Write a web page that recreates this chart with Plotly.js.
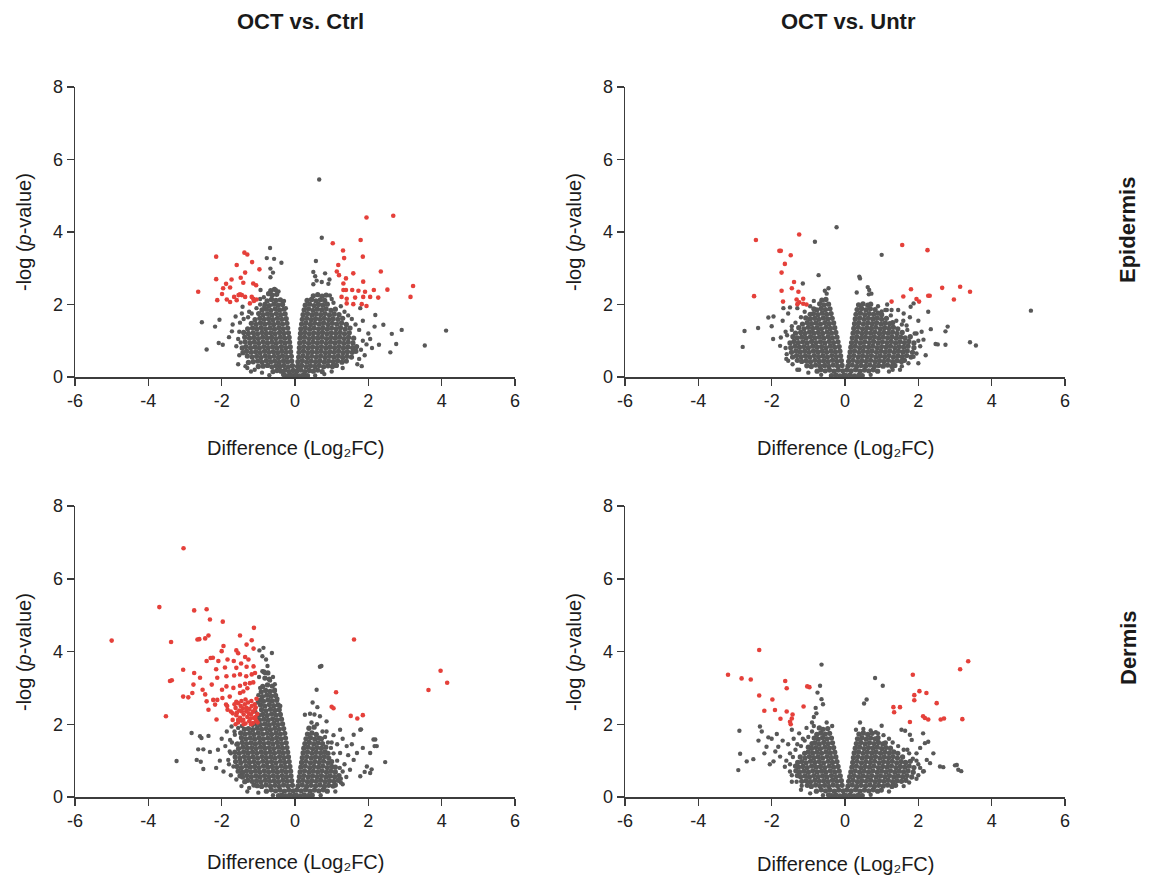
<!DOCTYPE html>
<html><head><meta charset="utf-8">
<script src="https://cdn.plot.ly/plotly-3.0.1.min.js"></script>
<style>html,body{margin:0;padding:0;background:#fff}#chart{width:1152px;height:879px}</style>
</head><body><div id="chart"></div>
<script>
// ---------- labels ----------
const xTicks=[-6,-4,-2,0,2,4,6];
const yTicks=[0,2,4,6,8];
const colTitles=['OCT vs. Ctrl','OCT vs. Untr'];
const rowTitles=['Epidermis','Dermis'];
const yTitle='-log (<i>p</i>-value)';
const xTitle='Difference (Log\u2082FC)';

// ---------- OCT vs. Ctrl, Epidermis ----------
const epiCtrlCore=[
[-0.03,0.04],[-0.12,0.06],[-0.22,0.03],[-0.31,0.07],
[-0.05,0.18],[-0.16,0.15],[-0.27,0.19],[-0.38,0.16],[-0.49,0.18],[-0.6,0.15],
[-0.07,0.31],[-0.18,0.28],[-0.3,0.32],[-0.41,0.29],[-0.52,0.31],[-0.63,0.28],[-0.75,0.32],[-0.87,0.3],[-1.0,0.29],
[-0.09,0.44],[-0.2,0.42],[-0.31,0.45],[-0.43,0.41],[-0.55,0.44],[-0.66,0.42],[-0.78,0.45],[-0.9,0.41],[-1.02,0.44],[-1.14,0.42],[-1.27,0.4],
[-0.1,0.57],[-0.22,0.55],[-0.34,0.58],[-0.45,0.54],[-0.57,0.57],[-0.69,0.55],[-0.81,0.58],[-0.93,0.54],[-1.05,0.57],[-1.17,0.55],[-1.3,0.58],
[-0.12,0.7],[-0.24,0.68],[-0.36,0.71],[-0.47,0.67],[-0.59,0.7],[-0.71,0.68],[-0.83,0.71],[-0.95,0.67],[-1.07,0.7],[-1.19,0.68],[-1.32,0.71],[-1.42,0.67],
[-0.13,0.83],[-0.25,0.81],[-0.37,0.84],[-0.49,0.8],[-0.61,0.83],[-0.73,0.81],[-0.85,0.84],[-0.97,0.8],[-1.09,0.83],[-1.21,0.81],[-1.34,0.84],[-1.44,0.8],
[-0.15,0.96],[-0.27,0.94],[-0.39,0.97],[-0.51,0.93],[-0.63,0.96],[-0.75,0.94],[-0.87,0.97],[-0.99,0.93],[-1.11,0.96],[-1.23,0.94],[-1.36,0.97],
[-0.16,1.09],[-0.28,1.07],[-0.4,1.1],[-0.52,1.06],[-0.64,1.09],[-0.76,1.07],[-0.88,1.1],[-1.0,1.06],[-1.12,1.09],[-1.24,1.07],[-1.37,1.1],
[-0.18,1.22],[-0.3,1.2],[-0.42,1.23],[-0.54,1.19],[-0.66,1.22],[-0.78,1.2],[-0.9,1.23],[-1.02,1.19],[-1.14,1.22],[-1.27,1.2],[-1.4,1.23],
[-0.2,1.35],[-0.32,1.33],[-0.44,1.36],[-0.56,1.32],[-0.68,1.35],[-0.8,1.33],[-0.92,1.36],[-1.04,1.32],[-1.16,1.35],[-1.29,1.33],
[-0.22,1.48],[-0.34,1.46],[-0.46,1.49],[-0.58,1.45],[-0.7,1.48],[-0.82,1.46],[-0.94,1.49],[-1.06,1.45],[-1.19,1.48],
[-0.24,1.61],[-0.36,1.59],[-0.48,1.62],[-0.6,1.58],[-0.72,1.61],[-0.84,1.59],[-0.96,1.62],[-1.09,1.58],
[-0.27,1.74],[-0.39,1.72],[-0.51,1.75],[-0.63,1.71],[-0.75,1.74],[-0.87,1.72],[-0.99,1.75],
[-0.3,1.87],[-0.42,1.85],[-0.54,1.88],[-0.66,1.84],[-0.78,1.87],[-0.9,1.85],
[-0.34,2.0],[-0.46,1.98],[-0.58,2.01],[-0.7,1.97],[-0.82,2.0],
[-0.4,2.13],[-0.52,2.11],[-0.64,2.14],[-0.76,2.1],
[-0.5,2.28],[-0.62,2.26],[-0.72,2.3],[-0.56,2.42],[-0.66,2.38],
[0.03,0.05],[0.13,0.03],[0.23,0.06],[0.34,0.04],
[0.05,0.16],[0.16,0.19],[0.27,0.15],[0.39,0.18],[0.5,0.16],[0.62,0.19],[0.74,0.15],
[0.07,0.29],[0.18,0.32],[0.3,0.28],[0.42,0.31],[0.54,0.29],[0.66,0.32],[0.78,0.28],[0.9,0.31],[1.02,0.29],[1.13,0.32],
[0.08,0.42],[0.2,0.45],[0.32,0.41],[0.44,0.44],[0.56,0.42],[0.68,0.45],[0.8,0.41],[0.92,0.44],[1.04,0.42],[1.16,0.45],[1.28,0.41],[1.4,0.44],
[0.1,0.55],[0.22,0.58],[0.34,0.54],[0.46,0.57],[0.58,0.55],[0.7,0.58],[0.82,0.54],[0.94,0.57],[1.06,0.55],[1.18,0.58],[1.3,0.54],[1.42,0.57],[1.54,0.55],
[0.11,0.68],[0.23,0.71],[0.35,0.67],[0.47,0.7],[0.59,0.68],[0.71,0.71],[0.83,0.67],[0.95,0.7],[1.07,0.68],[1.19,0.71],[1.31,0.67],[1.43,0.7],[1.56,0.68],[1.66,0.71],
[0.12,0.81],[0.24,0.84],[0.36,0.8],[0.48,0.83],[0.6,0.81],[0.72,0.84],[0.84,0.8],[0.96,0.83],[1.08,0.81],[1.2,0.84],[1.32,0.8],[1.44,0.83],[1.57,0.81],[1.68,0.84],
[0.13,0.94],[0.25,0.97],[0.37,0.93],[0.49,0.96],[0.61,0.94],[0.73,0.97],[0.85,0.93],[0.97,0.96],[1.09,0.94],[1.21,0.97],[1.33,0.93],[1.45,0.96],[1.58,0.94],
[0.14,1.07],[0.26,1.1],[0.38,1.06],[0.5,1.09],[0.62,1.07],[0.74,1.1],[0.86,1.06],[0.98,1.09],[1.1,1.07],[1.22,1.1],[1.34,1.06],[1.46,1.09],[1.6,1.07],
[0.15,1.2],[0.27,1.23],[0.39,1.19],[0.51,1.22],[0.63,1.2],[0.75,1.23],[0.87,1.19],[0.99,1.22],[1.11,1.2],[1.23,1.23],[1.35,1.19],[1.48,1.22],
[0.16,1.33],[0.28,1.36],[0.4,1.32],[0.52,1.35],[0.64,1.33],[0.76,1.36],[0.88,1.32],[1.0,1.35],[1.12,1.33],[1.24,1.36],[1.37,1.32],[1.5,1.35],
[0.18,1.46],[0.3,1.49],[0.42,1.45],[0.54,1.48],[0.66,1.46],[0.78,1.49],[0.9,1.45],[1.02,1.48],[1.14,1.46],[1.27,1.49],[1.4,1.45],
[0.2,1.59],[0.32,1.62],[0.44,1.58],[0.56,1.61],[0.68,1.59],[0.8,1.62],[0.92,1.58],[1.04,1.61],[1.17,1.59],[1.3,1.62],
[0.22,1.72],[0.34,1.75],[0.46,1.71],[0.58,1.74],[0.7,1.72],[0.82,1.75],[0.94,1.71],[1.07,1.74],[1.2,1.72],
[0.25,1.85],[0.37,1.88],[0.49,1.84],[0.61,1.87],[0.73,1.85],[0.85,1.88],[0.98,1.84],[1.1,1.87],
[0.28,1.98],[0.4,2.01],[0.52,1.97],[0.64,2.0],[0.76,1.98],[0.88,2.01],
[0.33,2.11],[0.45,2.14],[0.57,2.1],[0.69,2.13],[0.81,2.11],
[0.5,2.24],[0.62,2.27],[0.74,2.23],[0.85,2.26]
];
const epiCtrlOuter=[
[0.66,5.45],[0.73,3.84],[0.57,3.2],[-0.68,3.56],[-0.77,3.28],[-0.57,3.26],[-0.37,3.15],[-0.67,2.99],[-0.6,2.88],[-0.67,2.75],
[0.5,2.9],[0.55,2.78],[0.59,2.66],[0.82,2.86],[0.94,2.69],[0.91,2.57],[0.73,2.62],[0.5,2.56],[-0.52,2.4],[-0.45,2.36],
[4.12,1.28],[3.54,0.87],[2.91,1.3],[2.64,1.19],[2.6,0.68],[2.76,0.91],[2.29,0.89],[2.17,1.39],[2.41,1.44],[2.19,1.71],
[1.7,0.35],[2.0,1.2],[1.95,0.9],[1.85,1.55],[2.05,1.05],[1.9,0.6],[1.78,1.9],[2.1,0.8],[1.82,0.3],
[-2.54,1.51],[-2.41,0.76],[-2.18,1.39],[-2.06,1.58],[-2.08,0.94],[-1.97,0.89],[-1.72,1.26],[-1.62,1.67],[-1.43,1.94],[-0.84,1.94],
[-0.94,2.4],[-1.6,0.85],[-1.55,1.05],[-1.7,1.45],[-1.52,0.6],[-1.5,1.5],[-1.8,1.1],[-1.3,0.25],[-1.1,0.2],[-1.45,1.75],[-1.25,1.8],[-0.95,2.15],
[-1.55,0.35],[-1.48,0.95],[-1.52,1.25],[-1.4,1.6],[-1.28,1.65],[-1.18,1.75],[-1.05,1.9],[-0.95,2.0],[-0.85,2.2],[-0.3,2.1],[-0.25,1.9],
[-1.35,0.3],[-1.2,0.15],[-0.9,0.12],[-0.7,0.05],
[1.75,0.5],[1.8,0.75],[1.85,1.0],[1.75,1.3],[1.65,1.45],[1.55,1.6],[1.45,1.7],[1.35,1.8],[1.25,1.95],[1.05,2.05],[1.0,2.15],[0.95,2.25],
[1.3,0.25],[1.0,0.15],[0.8,0.08],[0.55,0.04]
];
const epiCtrlRed=[
[-2.64,2.35],[-2.15,3.32],[-2.15,2.7],[-2.12,2.12],[-1.96,2.45],[-1.88,2.57],[-1.99,2.29],[-1.86,2.14],[-1.73,2.69],[-1.77,2.47],
[-1.59,3.09],[-1.48,2.74],[-1.38,3.43],[-1.3,3.38],[-1.17,3.17],[-1.36,2.88],[-1.41,2.6],[-1.54,2.26],[-1.45,2.26],[-1.36,2.21],
[-1.66,2.21],[-1.59,2.12],[-1.77,2.07],[-1.14,2.58],[-1.06,2.53],[-1.18,2.21],[-1.14,2.16],[-1.05,2.14],[-1.23,2.03],[-0.97,2.97],
[-1.5,2.28],[-1.12,2.1],
[2.68,4.45],[1.95,4.4],[1.79,3.78],[1.03,3.69],[1.31,3.49],[1.34,3.28],[1.85,3.32],[1.18,3.09],[1.14,2.91],[1.2,2.81],
[1.59,2.86],[1.39,2.72],[1.32,2.58],[1.86,2.63],[2.34,2.91],[1.32,2.4],[1.39,2.4],[1.56,2.4],[1.73,2.38],[1.91,2.35],
[2.15,2.4],[1.27,2.21],[1.41,2.16],[1.64,2.19],[1.86,2.21],[2.05,2.21],[2.27,2.19],[1.41,2.03],[1.59,2.01],[1.82,2.01],
[1.95,1.96],[3.22,2.51],[3.15,2.21],[2.52,2.41]
];

// ---------- OCT vs. Untr, Epidermis ----------
const epiUntrCore=[
[-0.03,0.05],[-0.14,0.03],[-0.25,0.06],[-0.37,0.04],
[-0.06,0.17],[-0.18,0.19],[-0.3,0.16],[-0.42,0.19],[-0.54,0.17],[-0.66,0.2],[-0.76,0.16],
[-0.08,0.32],[-0.2,0.3],[-0.32,0.33],[-0.44,0.29],[-0.56,0.32],[-0.68,0.3],[-0.8,0.33],[-0.92,0.29],[-1.04,0.31],
[-0.1,0.45],[-0.22,0.43],[-0.34,0.46],[-0.46,0.42],[-0.58,0.45],[-0.7,0.43],[-0.82,0.46],[-0.94,0.42],[-1.06,0.45],[-1.18,0.43],[-1.3,0.46],
[-0.12,0.58],[-0.24,0.56],[-0.36,0.59],[-0.48,0.55],[-0.6,0.58],[-0.72,0.56],[-0.84,0.59],[-0.96,0.55],[-1.08,0.58],[-1.2,0.56],[-1.32,0.59],[-1.43,0.55],
[-0.14,0.71],[-0.26,0.69],[-0.38,0.72],[-0.5,0.68],[-0.62,0.71],[-0.74,0.69],[-0.86,0.72],[-0.98,0.68],[-1.1,0.71],[-1.22,0.69],[-1.34,0.72],[-1.46,0.68],
[-0.16,0.84],[-0.28,0.82],[-0.4,0.85],[-0.52,0.81],[-0.64,0.84],[-0.76,0.82],[-0.88,0.85],[-1.0,0.81],[-1.12,0.84],[-1.24,0.82],[-1.36,0.85],[-1.48,0.81],
[-0.19,0.97],[-0.31,0.95],[-0.43,0.98],[-0.55,0.94],[-0.67,0.97],[-0.79,0.95],[-0.91,0.98],[-1.03,0.94],[-1.15,0.97],[-1.27,0.95],[-1.39,0.98],[-1.5,0.94],
[-0.22,1.1],[-0.34,1.08],[-0.46,1.11],[-0.58,1.07],[-0.7,1.1],[-0.82,1.08],[-0.94,1.11],[-1.06,1.07],[-1.18,1.1],[-1.3,1.08],[-1.42,1.11],
[-0.25,1.23],[-0.37,1.21],[-0.49,1.24],[-0.61,1.2],[-0.73,1.23],[-0.85,1.21],[-0.97,1.24],[-1.09,1.2],[-1.21,1.23],[-1.35,1.21],
[-0.28,1.36],[-0.4,1.34],[-0.52,1.37],[-0.64,1.33],[-0.76,1.36],[-0.88,1.34],[-1.0,1.37],[-1.12,1.33],[-1.26,1.36],
[-0.31,1.49],[-0.43,1.47],[-0.55,1.5],[-0.67,1.46],[-0.79,1.49],[-0.91,1.47],[-1.03,1.5],[-1.16,1.46],
[-0.35,1.62],[-0.47,1.6],[-0.59,1.63],[-0.71,1.59],[-0.83,1.62],[-0.95,1.6],[-1.07,1.63],
[-0.38,1.75],[-0.5,1.73],[-0.62,1.76],[-0.74,1.72],[-0.86,1.75],[-0.95,1.73],
[-0.41,1.88],[-0.53,1.86],[-0.65,1.89],[-0.77,1.85],[-0.85,1.88],
[-0.45,2.01],[-0.57,1.99],[-0.69,2.02],[-0.52,2.14],[-0.63,2.12],
[0.03,0.04],[0.14,0.06],[0.26,0.03],[0.38,0.05],[0.47,0.04],
[0.05,0.19],[0.17,0.17],[0.29,0.2],[0.41,0.16],[0.53,0.19],[0.65,0.17],[0.77,0.2],[0.89,0.16],
[0.08,0.3],[0.2,0.33],[0.32,0.29],[0.44,0.32],[0.56,0.3],[0.68,0.33],[0.8,0.29],[0.92,0.32],[1.04,0.3],[1.16,0.33],[1.28,0.29],[1.36,0.32],
[0.1,0.43],[0.22,0.46],[0.34,0.42],[0.46,0.45],[0.58,0.43],[0.7,0.46],[0.82,0.42],[0.94,0.45],[1.06,0.43],[1.18,0.46],[1.3,0.42],[1.42,0.45],[1.54,0.43],[1.62,0.46],
[0.12,0.56],[0.24,0.59],[0.36,0.55],[0.48,0.58],[0.6,0.56],[0.72,0.59],[0.84,0.55],[0.96,0.58],[1.08,0.56],[1.2,0.59],[1.32,0.55],[1.44,0.58],[1.56,0.56],[1.68,0.59],[1.8,0.55],
[0.14,0.69],[0.26,0.72],[0.38,0.68],[0.5,0.71],[0.62,0.69],[0.74,0.72],[0.86,0.68],[0.98,0.71],[1.1,0.69],[1.22,0.72],[1.34,0.68],[1.46,0.71],[1.58,0.69],[1.7,0.72],[1.84,0.68],
[0.16,0.82],[0.28,0.85],[0.4,0.81],[0.52,0.84],[0.64,0.82],[0.76,0.85],[0.88,0.81],[1.0,0.84],[1.12,0.82],[1.24,0.85],[1.36,0.81],[1.48,0.84],[1.6,0.82],[1.72,0.85],[1.88,0.81],
[0.18,0.95],[0.3,0.98],[0.42,0.94],[0.54,0.97],[0.66,0.95],[0.78,0.98],[0.9,0.94],[1.02,0.97],[1.14,0.95],[1.26,0.98],[1.38,0.94],[1.5,0.97],[1.62,0.95],[1.74,0.98],[1.88,0.94],
[0.2,1.08],[0.32,1.11],[0.44,1.07],[0.56,1.1],[0.68,1.08],[0.8,1.11],[0.92,1.07],[1.04,1.1],[1.16,1.08],[1.28,1.11],[1.4,1.07],[1.52,1.1],[1.64,1.08],[1.78,1.11],
[0.22,1.21],[0.34,1.24],[0.46,1.2],[0.58,1.23],[0.7,1.21],[0.82,1.24],[0.94,1.2],[1.06,1.23],[1.18,1.21],[1.3,1.24],[1.42,1.2],[1.56,1.23],
[0.24,1.34],[0.36,1.37],[0.48,1.33],[0.6,1.36],[0.72,1.34],[0.84,1.37],[0.96,1.33],[1.08,1.36],[1.2,1.34],[1.32,1.37],[1.44,1.33],
[0.26,1.47],[0.38,1.5],[0.5,1.46],[0.62,1.49],[0.74,1.47],[0.86,1.5],[0.98,1.46],[1.1,1.49],[1.22,1.47],[1.3,1.5],
[0.28,1.6],[0.4,1.63],[0.52,1.59],[0.64,1.62],[0.76,1.6],[0.88,1.63],[1.0,1.59],[1.13,1.62],
[0.3,1.73],[0.42,1.76],[0.54,1.72],[0.66,1.75],[0.78,1.73],[0.9,1.76],[1.0,1.72],
[0.33,1.86],[0.45,1.89],[0.57,1.85],[0.69,1.88],[0.82,1.86],
[0.37,1.99],[0.49,2.02],[0.62,1.98],[0.7,2.01]
];
const epiUntrOuter=[
[-0.23,4.13],[-0.82,3.73],[1.0,3.37],[0.39,2.77],[0.41,2.72],[-0.72,2.81],[-0.55,2.38],[-0.45,2.45],[-0.5,2.3],[-1.15,2.58],
[0.32,2.33],[0.62,2.48],[0.65,2.28],[0.72,2.3],[0.66,2.4],
[-2.74,1.27],[-2.79,0.83],[-2.37,1.35],[-2.09,1.64],[-2.0,1.4],[-1.95,1.67],[-1.96,1.05],[-1.77,0.86],[-1.75,1.09],[-1.68,1.9],
[-1.5,1.92],[-1.45,1.4],[-1.43,0.35],[-1.59,0.63],[-1.62,1.25],[-1.7,1.55],[-1.55,1.75],[-1.3,1.9],[-1.55,0.45],[-1.25,0.2],
[5.07,1.83],[3.41,0.96],[3.57,0.87],[2.74,1.26],[2.8,1.39],[2.47,0.91],[2.74,0.89],[2.53,0.9],[2.34,1.32],[2.09,1.25],
[2.14,1.03],[2.05,0.85],[2.0,0.38],[1.73,0.38],[1.87,0.56],[1.59,1.55],[1.68,1.42],[1.77,1.65],[1.45,1.85],[1.27,1.85],
[1.14,1.85],[1.0,1.81],[1.79,1.94],[1.87,2.03],[2.27,1.8],[1.3,0.2],[2.0,1.55],[1.95,1.2],[2.2,0.6],[1.6,1.75],[1.5,0.2],[1.15,2.0],
[-1.6,0.5],[-1.62,0.8],[-1.58,1.15],[-1.45,1.3],[-1.35,1.5],[-1.2,1.65],[-1.1,1.8],[-0.95,1.95],[-0.85,2.1],[-1.3,0.2],[-1.0,0.12],[-0.65,0.06],
[1.95,0.65],[2.0,1.0],[1.9,1.2],[1.7,1.3],[1.55,1.45],[1.4,1.55],[1.25,1.7],[1.1,1.85],[0.9,1.95],[1.55,0.3],[1.2,0.15],[0.7,0.06]
];
const epiUntrRed=[
[-2.43,3.78],[-2.48,2.23],[-1.79,3.48],[-1.75,3.48],[-1.48,3.36],[-1.64,3.12],[-1.73,2.88],[-1.25,3.93],[-1.39,2.62],[-1.45,2.45],
[-1.73,2.38],[-1.27,2.35],[-1.69,2.08],[-1.32,2.14],[-1.25,2.06],[-1.14,2.16],[-1.05,2.0],[-1.14,2.02],[-1.3,2.01],
[1.56,3.64],[2.25,3.5],[1.8,2.42],[1.59,2.22],[1.95,2.15],[2.02,2.08],[2.27,2.24],[2.31,2.24],[1.27,2.08],[2.65,2.46],
[3.14,2.49],[3.41,2.35],[2.97,2.14]
];

// ---------- OCT vs. Ctrl, Dermis ----------
const derCtrlCore=[
[-0.03,0.04],[-0.14,0.06],[-0.25,0.03],[-0.36,0.05],[-0.45,0.04],
[-0.05,0.17],[-0.17,0.19],[-0.29,0.16],[-0.41,0.19],[-0.53,0.17],[-0.65,0.2],[-0.78,0.16],
[-0.07,0.32],[-0.19,0.3],[-0.31,0.33],[-0.43,0.29],[-0.55,0.32],[-0.67,0.3],[-0.79,0.33],[-0.91,0.29],[-1.03,0.31],[-1.12,0.33],
[-0.09,0.45],[-0.21,0.43],[-0.33,0.46],[-0.45,0.42],[-0.57,0.45],[-0.69,0.43],[-0.81,0.46],[-0.93,0.42],[-1.05,0.45],[-1.17,0.43],[-1.29,0.46],[-1.37,0.42],
[-0.11,0.58],[-0.23,0.56],[-0.35,0.59],[-0.47,0.55],[-0.59,0.58],[-0.71,0.56],[-0.83,0.59],[-0.95,0.55],[-1.07,0.58],[-1.19,0.56],[-1.31,0.59],[-1.43,0.55],[-1.5,0.58],
[-0.12,0.71],[-0.24,0.69],[-0.36,0.72],[-0.48,0.68],[-0.6,0.71],[-0.72,0.69],[-0.84,0.72],[-0.96,0.68],[-1.08,0.71],[-1.2,0.69],[-1.32,0.72],[-1.44,0.68],[-1.55,0.71],
[-0.14,0.84],[-0.26,0.82],[-0.38,0.85],[-0.5,0.81],[-0.62,0.84],[-0.74,0.82],[-0.86,0.85],[-0.98,0.81],[-1.1,0.84],[-1.22,0.82],[-1.34,0.85],[-1.46,0.81],[-1.58,0.84],
[-0.16,0.97],[-0.28,0.95],[-0.4,0.98],[-0.52,0.94],[-0.64,0.97],[-0.76,0.95],[-0.88,0.98],[-1.0,0.94],[-1.12,0.97],[-1.24,0.95],[-1.36,0.98],[-1.48,0.94],[-1.62,0.97],
[-0.18,1.1],[-0.3,1.08],[-0.42,1.11],[-0.54,1.07],[-0.66,1.1],[-0.78,1.08],[-0.9,1.11],[-1.02,1.07],[-1.14,1.1],[-1.26,1.08],[-1.38,1.11],[-1.5,1.07],[-1.63,1.1],
[-0.2,1.23],[-0.32,1.21],[-0.44,1.24],[-0.56,1.2],[-0.68,1.23],[-0.8,1.21],[-0.92,1.24],[-1.04,1.2],[-1.16,1.23],[-1.28,1.21],[-1.4,1.24],[-1.52,1.2],[-1.64,1.23],
[-0.22,1.36],[-0.34,1.34],[-0.46,1.37],[-0.58,1.33],[-0.7,1.36],[-0.82,1.34],[-0.94,1.37],[-1.06,1.33],[-1.18,1.36],[-1.3,1.34],[-1.42,1.37],[-1.54,1.33],
[-0.24,1.49],[-0.36,1.47],[-0.48,1.5],[-0.6,1.46],[-0.72,1.49],[-0.84,1.47],[-0.96,1.5],[-1.08,1.46],[-1.2,1.49],[-1.32,1.47],[-1.44,1.5],[-1.57,1.46],
[-0.26,1.62],[-0.38,1.6],[-0.5,1.63],[-0.62,1.59],[-0.74,1.62],[-0.86,1.6],[-0.98,1.63],[-1.1,1.59],[-1.22,1.62],[-1.34,1.6],[-1.46,1.63],
[-0.28,1.75],[-0.4,1.73],[-0.52,1.76],[-0.64,1.72],[-0.76,1.75],[-0.88,1.73],[-1.0,1.76],[-1.12,1.72],[-1.24,1.75],[-1.36,1.73],[-1.48,1.76],
[-0.31,1.88],[-0.43,1.86],[-0.55,1.89],[-0.67,1.85],[-0.79,1.88],[-0.91,1.86],[-1.03,1.89],[-1.15,1.85],[-1.27,1.88],[-1.38,1.86],
[-0.34,2.01],[-0.46,1.99],[-0.58,2.02],[-0.7,1.98],[-0.82,2.01],[-0.94,1.99],[-1.06,2.02],
[-0.37,2.14],[-0.49,2.12],[-0.61,2.15],[-0.73,2.11],[-0.85,2.14],[-0.97,2.12],
[-0.4,2.27],[-0.52,2.25],[-0.64,2.28],[-0.76,2.24],[-0.88,2.27],[-0.99,2.25],
[-0.43,2.4],[-0.55,2.38],[-0.67,2.41],[-0.79,2.37],[-0.91,2.4],
[-0.46,2.53],[-0.58,2.51],[-0.7,2.54],[-0.82,2.5],[-0.94,2.53],
[-0.5,2.66],[-0.62,2.64],[-0.74,2.67],[-0.86,2.63],[-0.96,2.66],
[-0.53,2.79],[-0.65,2.77],[-0.77,2.8],[-0.89,2.76],
[-0.56,2.92],[-0.68,2.9],[-0.8,2.93],[-0.92,2.89],
[-0.62,3.05],[-0.75,3.08],[-0.88,3.04],[-0.7,3.24],[-0.82,3.27],[-0.74,3.41],[-0.85,3.44],
[0.03,0.05],[0.14,0.03],[0.25,0.06],[0.36,0.04],[0.47,0.05],
[0.05,0.19],[0.17,0.17],[0.29,0.2],[0.41,0.16],[0.53,0.19],[0.65,0.17],[0.77,0.2],[0.88,0.16],
[0.08,0.3],[0.2,0.33],[0.32,0.29],[0.44,0.32],[0.56,0.3],[0.68,0.33],[0.8,0.29],[0.92,0.32],[1.04,0.3],[1.1,0.33],
[0.1,0.43],[0.22,0.46],[0.34,0.42],[0.46,0.45],[0.58,0.43],[0.7,0.46],[0.82,0.42],[0.94,0.45],[1.06,0.43],[1.18,0.46],
[0.12,0.56],[0.24,0.59],[0.36,0.55],[0.48,0.58],[0.6,0.56],[0.72,0.59],[0.84,0.55],[0.96,0.58],[1.08,0.56],[1.2,0.59],
[0.14,0.69],[0.26,0.72],[0.38,0.68],[0.5,0.71],[0.62,0.69],[0.74,0.72],[0.86,0.68],[0.98,0.71],[1.1,0.69],
[0.16,0.82],[0.28,0.85],[0.4,0.81],[0.52,0.84],[0.64,0.82],[0.76,0.85],[0.88,0.81],[1.0,0.84],[1.1,0.82],
[0.18,0.95],[0.3,0.98],[0.42,0.94],[0.54,0.97],[0.66,0.95],[0.78,0.98],[0.9,0.94],[1.0,0.97],
[0.2,1.08],[0.32,1.11],[0.44,1.07],[0.56,1.1],[0.68,1.08],[0.8,1.11],[0.92,1.07],
[0.22,1.21],[0.34,1.24],[0.46,1.2],[0.58,1.23],[0.7,1.21],[0.82,1.24],[0.9,1.2],
[0.24,1.34],[0.36,1.37],[0.48,1.33],[0.6,1.36],[0.72,1.34],[0.84,1.37],
[0.27,1.47],[0.39,1.5],[0.51,1.46],[0.63,1.49],[0.75,1.47],
[0.3,1.6],[0.42,1.63],[0.54,1.59],[0.66,1.62],[0.72,1.6],
[0.34,1.73],[0.46,1.76],[0.58,1.72],[0.38,1.89],[0.52,1.92]
];
const derCtrlOuter=[
[-0.89,3.46],[-0.86,4.1],[-0.63,3.96],[-0.89,3.87],[-0.79,3.78],[-0.82,3.41],[-0.97,4.03],[-0.75,3.6],[-0.68,3.2],[-0.55,2.95],[-0.48,2.7],
[0.68,3.58],[0.72,3.6],[0.59,2.95],[0.48,2.6],[0.61,2.47],[0.27,2.26],[0.41,2.29],[0.68,2.22],[0.86,2.08],[0.53,2.27],
[0.86,1.8],[1.23,1.85],[1.6,1.71],[1.78,1.85],[2.14,1.58],[2.23,1.4],[2.05,1.21],[1.96,0.84],[2.05,0.66],[1.6,1.02],
[1.41,1.4],[1.23,1.21],[1.69,1.21],[1.5,0.75],[1.78,0.57],[2.46,0.96],[2.19,1.58],[2.17,1.4],[1.85,1.35],[1.8,1.86],
[1.9,0.69],[2.09,0.76],[1.35,0.9],[1.4,0.55],[1.3,1.6],[1.15,1.45],[1.05,1.7],[1.45,1.15],[1.25,0.4],[1.55,1.45],[1.3,0.7],[1.0,1.5],
[-2.82,1.76],[-2.59,1.67],[-2.55,1.62],[-2.64,1.31],[-2.5,1.31],[-2.32,1.24],[-3.23,0.99],[-2.68,1.02],[-2.57,0.97],[-2.5,0.77],
[-2.36,1.68],[-2.1,1.3],[-2.05,1.0],[-2.15,0.8],[-1.95,0.7],[-1.86,1.8],[-1.77,1.57],[-1.73,1.94],[-1.64,1.71],[-1.6,1.44],
[-1.82,1.02],[-1.68,0.84],[-1.5,1.02],[-1.41,0.66],[-1.6,0.48],[-1.46,0.3],[-1.9,1.4],[-2.0,1.6],[-1.75,1.2],[-1.25,0.25],
[-1.75,0.6],[-1.8,0.9],[-1.78,1.25],[-1.72,1.5],[-1.65,1.8],[-1.55,1.9],[-1.45,1.95],[-1.3,0.15],[-1.0,0.12],[-0.6,0.05],
[-1.15,1.98],[-1.05,2.2],[-1.08,2.35],[-1.02,2.6],[-1.0,2.8],[-0.95,3.0],[-0.98,3.3],[-0.6,3.3],[-0.55,3.1],[-0.45,2.4],[-0.4,2.5],
[1.25,0.5],[1.3,0.35],[1.22,0.8],[1.15,1.0],[1.05,1.2],[0.98,1.35],[0.9,1.5],[0.82,1.65],[0.75,1.8],[0.6,2.0],[0.45,2.05],[1.1,0.15],[0.7,0.05]
];
const derCtrlRed=[
[-3.04,6.84],[-3.7,5.22],[-5.0,4.3],[-2.75,5.13],[-2.41,5.16],[-2.32,4.88],[-1.97,4.82],[-3.38,4.26],[-2.66,4.33],[-2.61,4.34],
[-2.45,4.36],[-2.36,4.44],[-1.12,4.65],[-1.5,4.44],[-1.18,4.31],[-1.32,4.19],[-1.95,4.15],[-2.0,4.01],[-1.6,4.03],[-1.55,3.95],
[-1.36,3.85],[-1.13,4.08],[-2.3,3.82],[-2.24,3.83],[-2.41,3.74],[-2.09,3.74],[-1.84,3.78],[-1.67,3.74],[-1.47,3.67],[-1.27,3.78],
[-1.32,3.58],[-1.13,3.59],[-1.91,3.56],[-2.15,3.51],[-1.6,3.55],[-3.05,3.5],[-2.75,3.41],[-3.41,3.19],[-3.36,3.21],[-2.59,3.28],
[-2.12,3.28],[-1.87,3.32],[-1.5,3.37],[-1.66,3.34],[-1.33,3.32],[-1.18,3.37],[-1.09,3.41],[-2.77,3.09],[-2.52,2.95],[-2.27,3.09],
[-1.99,2.95],[-1.87,3.04],[-1.68,3.0],[-1.5,3.06],[-1.36,3.11],[-1.23,3.13],[-1.14,3.15],[-1.3,2.99],[-1.41,2.9],[-1.5,2.86],
[-3.05,2.76],[-2.91,2.74],[-2.8,2.86],[-2.45,2.82],[-2.23,2.67],[-2.12,2.67],[-1.98,2.72],[-1.78,2.76],
[-1.6,2.62],[-1.55,2.58],[-1.46,2.64],[-1.37,2.55],[-1.28,2.6],[-1.19,2.64],[-1.1,2.55],[-1.05,2.7],
[-1.62,2.45],[-1.52,2.38],[-1.42,2.44],[-1.33,2.36],[-1.24,2.42],[-1.15,2.34],[-1.07,2.46],
[-1.6,2.25],[-1.5,2.18],[-1.4,2.27],[-1.3,2.2],[-1.2,2.26],[-1.12,2.17],[-1.03,2.28],
[-1.55,2.05],[-1.45,2.1],[-1.35,2.02],[-1.25,2.08],[-1.15,2.03],[-1.06,2.1],[-1.7,2.12],[-1.75,2.35],[-1.85,2.5],
[-1.65,2.55],[-1.58,2.32],[-1.48,2.5],[-1.41,2.12],[-1.35,2.68],[-1.26,2.3],[-1.18,2.5],[-1.1,2.4],[-1.08,2.2],
[-1.22,2.15],[-1.32,2.45],[-1.45,2.35],[-1.55,2.12],[-1.02,2.05],[-1.7,2.3],[-1.62,2.0],[-1.4,2.0],[-1.2,2.0],
[-3.52,2.22],[-2.41,2.63],[-2.36,2.4],[-2.14,2.13],[-2.18,2.54],[-1.88,2.54],[-1.84,2.4],
[1.61,4.33],[1.12,2.88],[1.0,2.48],[1.05,2.44],[1.52,2.23],[1.7,2.16],[1.85,2.25],[3.64,2.94],[3.97,3.47],[4.15,3.14]
];

// ---------- OCT vs. Untr, Dermis ----------
const derUntrCore=[
[-0.03,0.05],[-0.14,0.03],[-0.25,0.06],[-0.36,0.04],[-0.45,0.06],
[-0.05,0.17],[-0.17,0.19],[-0.29,0.16],[-0.41,0.19],[-0.53,0.17],[-0.65,0.2],[-0.78,0.16],
[-0.08,0.32],[-0.2,0.3],[-0.32,0.33],[-0.44,0.29],[-0.56,0.32],[-0.68,0.3],[-0.8,0.33],[-0.92,0.29],[-1.03,0.32],
[-0.1,0.45],[-0.22,0.43],[-0.34,0.46],[-0.46,0.42],[-0.58,0.45],[-0.7,0.43],[-0.82,0.46],[-0.94,0.42],[-1.06,0.45],[-1.18,0.43],
[-0.13,0.58],[-0.25,0.56],[-0.37,0.59],[-0.49,0.55],[-0.61,0.58],[-0.73,0.56],[-0.85,0.59],[-0.97,0.55],[-1.09,0.58],[-1.21,0.56],[-1.3,0.59],
[-0.16,0.71],[-0.28,0.69],[-0.4,0.72],[-0.52,0.68],[-0.64,0.71],[-0.76,0.69],[-0.88,0.72],[-1.0,0.68],[-1.12,0.71],[-1.24,0.69],[-1.34,0.72],
[-0.19,0.84],[-0.31,0.82],[-0.43,0.85],[-0.55,0.81],[-0.67,0.84],[-0.79,0.82],[-0.91,0.85],[-1.03,0.81],[-1.15,0.84],[-1.27,0.82],[-1.35,0.85],
[-0.22,0.97],[-0.34,0.95],[-0.46,0.98],[-0.58,0.94],[-0.7,0.97],[-0.82,0.95],[-0.94,0.98],[-1.06,0.94],[-1.18,0.97],[-1.29,0.95],
[-0.25,1.1],[-0.37,1.08],[-0.49,1.11],[-0.61,1.07],[-0.73,1.1],[-0.85,1.08],[-0.97,1.11],[-1.09,1.07],[-1.22,1.1],
[-0.28,1.23],[-0.4,1.21],[-0.52,1.24],[-0.64,1.2],[-0.76,1.23],[-0.88,1.21],[-1.0,1.24],[-1.1,1.2],
[-0.31,1.36],[-0.43,1.34],[-0.55,1.37],[-0.67,1.33],[-0.79,1.36],[-0.91,1.34],[-1.0,1.37],
[-0.34,1.49],[-0.46,1.47],[-0.58,1.5],[-0.7,1.46],[-0.82,1.49],[-0.9,1.47],
[-0.37,1.62],[-0.49,1.6],[-0.61,1.63],[-0.73,1.59],[-0.84,1.62],
[-0.42,1.75],[-0.54,1.73],[-0.66,1.76],[-0.77,1.72],[-0.47,1.88],[-0.6,1.86],[-0.7,1.9],
[0.03,0.04],[0.14,0.06],[0.25,0.03],[0.36,0.05],[0.47,0.04],
[0.05,0.19],[0.17,0.17],[0.29,0.2],[0.41,0.16],[0.53,0.19],[0.65,0.17],[0.77,0.2],[0.89,0.16],[0.99,0.19],
[0.08,0.3],[0.2,0.33],[0.32,0.29],[0.44,0.32],[0.56,0.3],[0.68,0.33],[0.8,0.29],[0.92,0.32],[1.04,0.3],[1.16,0.33],[1.28,0.29],[1.38,0.32],
[0.1,0.43],[0.22,0.46],[0.34,0.42],[0.46,0.45],[0.58,0.43],[0.7,0.46],[0.82,0.42],[0.94,0.45],[1.06,0.43],[1.18,0.46],[1.3,0.42],[1.42,0.45],[1.54,0.43],[1.66,0.46],
[0.13,0.56],[0.25,0.59],[0.37,0.55],[0.49,0.58],[0.61,0.56],[0.73,0.59],[0.85,0.55],[0.97,0.58],[1.09,0.56],[1.21,0.59],[1.33,0.55],[1.45,0.58],[1.57,0.56],[1.69,0.59],[1.82,0.55],
[0.16,0.69],[0.28,0.72],[0.4,0.68],[0.52,0.71],[0.64,0.69],[0.76,0.72],[0.88,0.68],[1.0,0.71],[1.12,0.69],[1.24,0.72],[1.36,0.68],[1.48,0.71],[1.6,0.69],[1.72,0.72],[1.86,0.68],
[0.19,0.82],[0.31,0.85],[0.43,0.81],[0.55,0.84],[0.67,0.82],[0.79,0.85],[0.91,0.81],[1.03,0.84],[1.15,0.82],[1.27,0.85],[1.39,0.81],[1.51,0.84],[1.63,0.82],[1.75,0.85],[1.88,0.81],
[0.21,0.95],[0.33,0.98],[0.45,0.94],[0.57,0.97],[0.69,0.95],[0.81,0.98],[0.93,0.94],[1.05,0.97],[1.17,0.95],[1.29,0.98],[1.41,0.94],[1.53,0.97],[1.65,0.95],[1.78,0.98],
[0.23,1.08],[0.35,1.11],[0.47,1.07],[0.59,1.1],[0.71,1.08],[0.83,1.11],[0.95,1.07],[1.07,1.1],[1.19,1.08],[1.31,1.11],[1.43,1.07],[1.57,1.1],
[0.25,1.21],[0.37,1.24],[0.49,1.2],[0.61,1.23],[0.73,1.21],[0.85,1.24],[0.97,1.2],[1.09,1.23],[1.21,1.21],[1.33,1.24],[1.44,1.2],
[0.28,1.34],[0.4,1.37],[0.52,1.33],[0.64,1.36],[0.76,1.34],[0.88,1.37],[1.0,1.33],[1.12,1.36],[1.24,1.34],
[0.31,1.47],[0.43,1.5],[0.55,1.46],[0.67,1.49],[0.79,1.47],[0.91,1.5],[1.03,1.46],[1.1,1.49],
[0.34,1.6],[0.46,1.63],[0.58,1.59],[0.7,1.62],[0.82,1.6],[0.9,1.63],
[0.38,1.73],[0.5,1.76],[0.62,1.72],[0.74,1.75]
];
const derUntrOuter=[
[-0.64,3.64],[0.82,3.27],[1.03,3.06],[-0.68,3.06],[-0.75,2.87],[-0.64,2.69],[-0.6,2.55],[-0.8,2.45],[-0.78,2.3],[-0.85,2.2],
[-0.9,2.05],[0.59,2.68],[0.52,2.57],[0.41,2.05],[0.5,1.87],[0.7,1.83],[0.84,1.78],[1.0,1.96],[1.54,1.85],[1.64,1.82],
[1.77,1.71],[1.82,1.57],[2.13,1.75],[2.18,1.48],[2.27,1.52],[2.41,1.2],[2.23,1.02],[2.32,0.93],[2.13,0.7],[2.59,0.84],
[2.68,0.82],[3.05,0.88],[3.09,0.75],[3.0,0.87],[3.17,0.71],[2.15,0.71],[1.95,1.2],[2.0,0.9],[1.85,1.05],[2.05,1.35],
[1.7,1.3],[1.75,0.4],[1.95,0.5],
[-2.88,1.82],[-2.86,1.19],[-2.68,0.98],[-2.5,1.04],[-2.91,0.74],[-2.32,1.94],[-2.27,1.8],[-2.09,1.64],[-2.0,1.6],[-1.86,1.73],
[-2.14,1.38],[-1.95,0.98],[-1.77,1.11],[-1.82,1.38],[-1.64,0.83],[-1.45,0.42],[-1.32,0.42],[-1.18,0.31],[-2.36,1.55],[-2.2,1.2],
[-1.7,1.55],[-1.55,1.45],[-1.5,1.2],[-1.6,1.0],[-1.4,1.6],[-1.3,1.45],[-1.25,1.75],[-1.5,0.7],[-1.9,1.25],[-2.05,0.9],
[-1.45,1.85],[-1.15,1.6],[-1.05,1.9],
[-1.45,0.6],[-1.5,0.9],[-1.42,1.1],[-1.35,1.3],[-1.2,1.4],[-1.1,1.55],[-1.0,1.65],[-0.9,1.8],[-0.85,1.95],[-1.2,0.2],[-0.95,0.1],[-0.6,0.05],[-0.35,1.95],[-0.5,2.05],
[2.0,0.6],[2.05,0.8],[1.95,1.0],[1.75,1.2],[1.6,1.3],[1.45,1.4],[1.3,1.5],[1.2,1.6],[1.05,1.7],[0.9,1.75],[1.6,0.3],[1.2,0.15],[0.7,0.06],[0.3,1.85]
];
const derUntrRed=[
[-2.34,4.04],[-3.19,3.36],[-2.82,3.26],[-2.57,3.23],[-2.34,2.79],[-1.63,3.19],[-1.59,2.99],[-1.03,3.04],[-0.97,3.02],[-1.98,2.68],
[-2.2,2.37],[-1.91,2.39],[-1.59,2.35],[-1.13,2.49],[-1.76,2.15],[-1.43,2.27],[-1.45,2.16],[-1.5,2.07],[-1.48,2.0],
[1.85,3.36],[2.03,2.91],[2.22,2.86],[1.89,2.8],[1.89,2.66],[1.32,2.47],[1.5,2.47],[1.34,2.33],[1.77,2.06],[2.5,2.58],
[2.13,2.22],[2.18,2.17],[2.27,2.13],[2.61,2.13],[2.7,2.16],[3.36,3.73],[3.14,3.51],[3.2,2.14]
];

// ---------- build ----------
const GREY='#585858', RED='#e5403a', AX='#3c3c3c';
const FONT='Arial, "Liberation Sans", Helvetica, sans-serif';
const panels=[
  {core:epiCtrlCore, outer:epiCtrlOuter, red:epiCtrlRed, xa:'x',  ya:'y'},
  {core:epiUntrCore, outer:epiUntrOuter, red:epiUntrRed, xa:'x2', ya:'y2'},
  {core:derCtrlCore, outer:derCtrlOuter, red:derCtrlRed, xa:'x3', ya:'y3'},
  {core:derUntrCore, outer:derUntrOuter, red:derUntrRed, xa:'x4', ya:'y4'}
];
const traces=[];
panels.forEach(p=>{
  [[p.core,GREY,5.3],[p.outer,GREY,4.4],[p.red,RED,4.6]].forEach(([pts,col,sz])=>{
    traces.push({type:'scatter',mode:'markers',x:pts.map(d=>d[0]),y:pts.map(d=>d[1]),
      xaxis:p.xa,yaxis:p.ya,cliponaxis:false,hoverinfo:'x+y',
      marker:{color:col,size:sz,line:{width:0}}});
  });
});

const W=1152,H=879;
const colX=[[75,515],[625,1065]];
const rowY=[[87,377],[506,797]];
function xAxis(c,anchor){return {domain:[colX[c][0]/W,colX[c][1]/W],anchor:anchor,range:[-6,6],
  tickmode:'array',tickvals:xTicks,ticktext:xTicks.map(String),ticks:'outside',ticklen:7,tickwidth:1.5,tickcolor:AX,
  showline:true,linecolor:AX,linewidth:1.5,showgrid:false,zeroline:false,fixedrange:true,
  tickfont:{family:FONT,size:18,color:'#222'}};}
function yAxis(r,anchor){return {domain:[1-rowY[r][1]/H,1-rowY[r][0]/H],anchor:anchor,range:[0,8],
  tickmode:'array',tickvals:yTicks,ticktext:yTicks.map(String),ticks:'outside',ticklen:7,tickwidth:1.5,tickcolor:AX,
  showline:true,linecolor:AX,linewidth:1.5,showgrid:false,zeroline:false,fixedrange:true,
  tickfont:{family:FONT,size:18,color:'#222'}};}

const ann=[];
function A(text,px,py,size,bold,angle){
  ann.push({text:bold?'<b>'+text+'</b>':text,x:px/W,y:1-py/H,xref:'paper',yref:'paper',showarrow:false,
    xanchor:'center',yanchor:'middle',textangle:angle||0,font:{family:FONT,size:size,color:'#1a1a1a'}});
}
A(colTitles[0],300,21,22,true);
A(colTitles[1],848,21,22,true);
A(rowTitles[0],1128,230,22,true,-90);
A(rowTitles[1],1128,648,22,true,-90);
[[24,232],[574,232],[24,652],[574,652]].forEach(([x,y])=>A(yTitle,x,y,20,false,-90));
[[295,448],[845,448],[295,862],[845,864]].forEach(([x,y])=>A(xTitle,x,y,20,false));

const layout={width:W,height:H,margin:{l:0,r:0,t:0,b:0},paper_bgcolor:'#fff',plot_bgcolor:'#fff',
  showlegend:false,font:{family:FONT},
  xaxis:xAxis(0,'y'),yaxis:yAxis(0,'x'),
  xaxis2:xAxis(1,'y2'),yaxis2:yAxis(0,'x2'),
  xaxis3:xAxis(0,'y3'),yaxis3:yAxis(1,'x3'),
  xaxis4:xAxis(1,'y4'),yaxis4:yAxis(1,'x4'),
  annotations:ann};
Plotly.newPlot('chart',traces,layout,{displayModeBar:false,staticPlot:true});
</script></body></html>
